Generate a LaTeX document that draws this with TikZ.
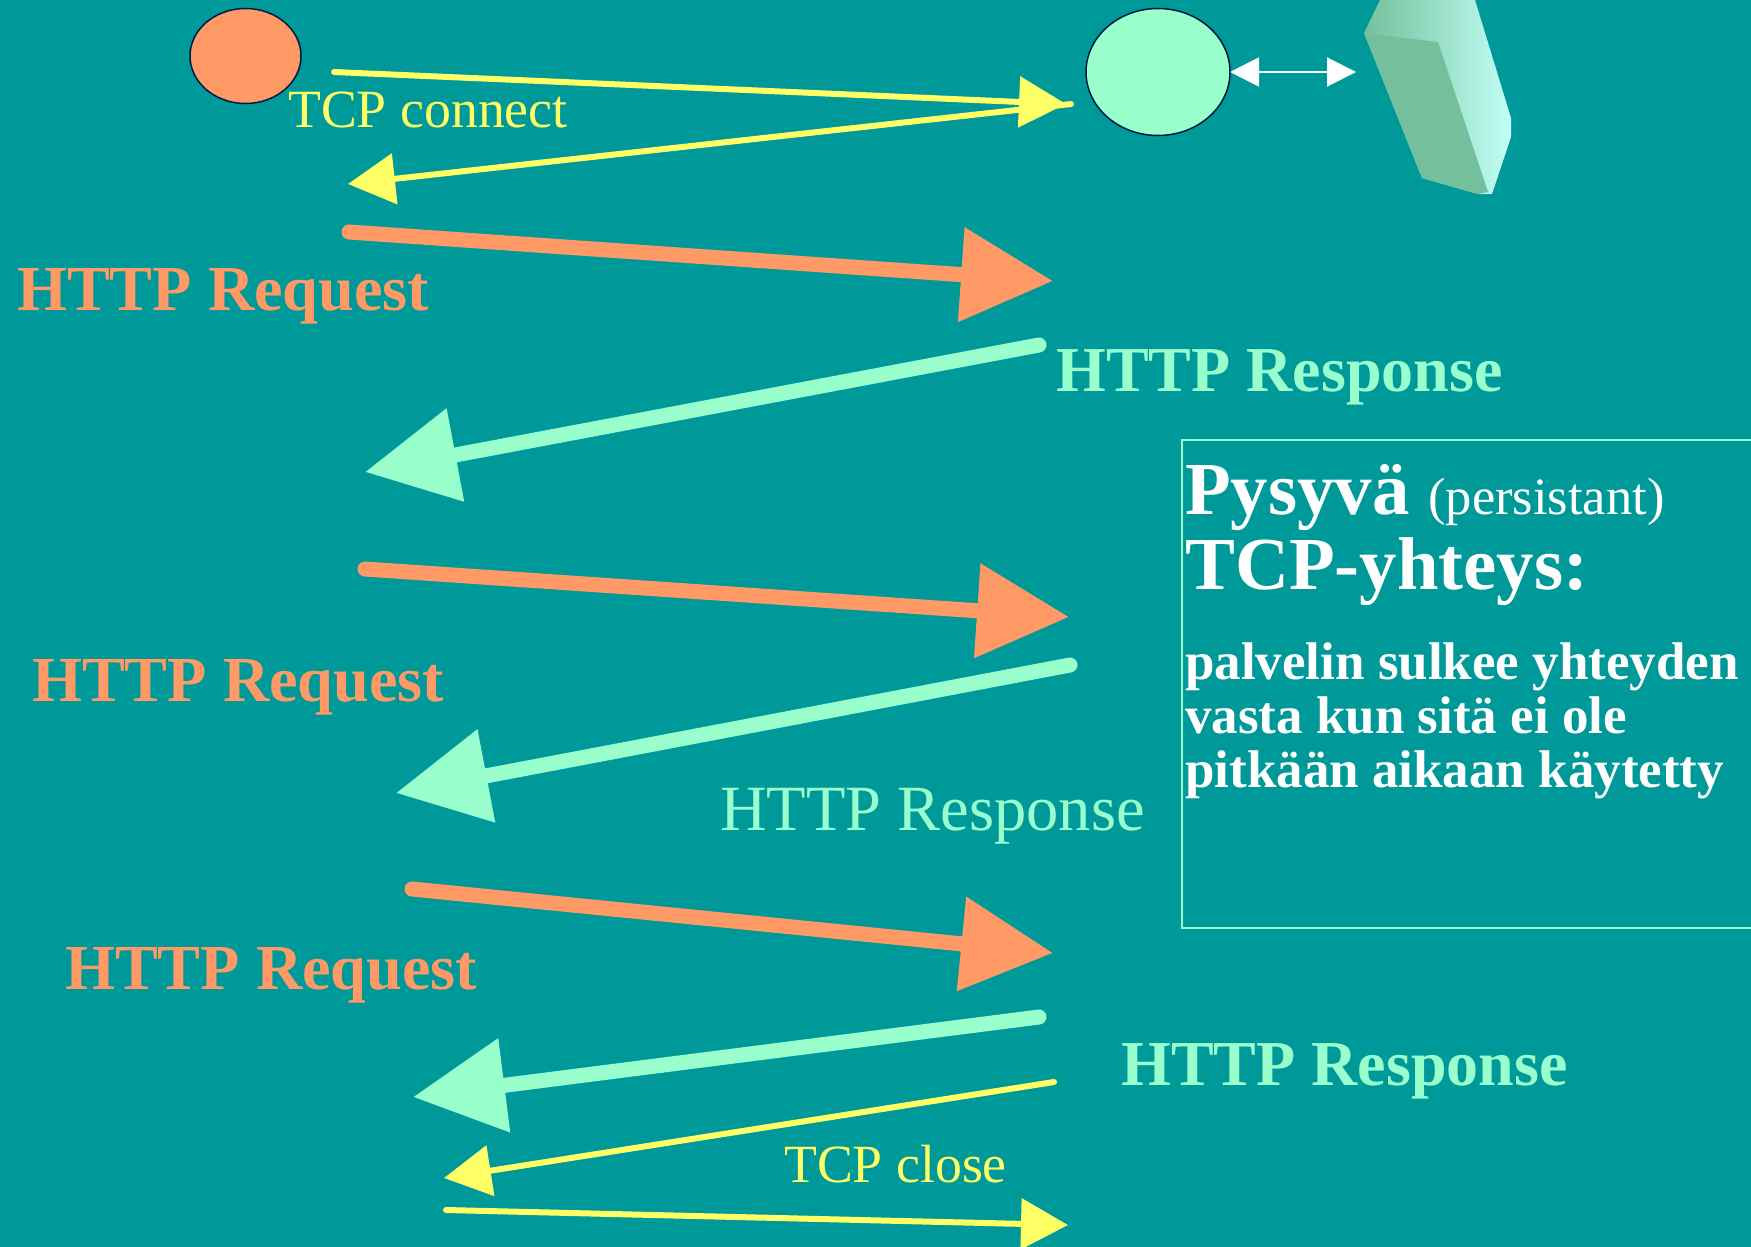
\documentclass[tikz,border=0pt]{standalone}
\usepackage{fontspec}
\setmainfont{Liberation Serif}
\usepackage{xcolor}
\usetikzlibrary{shapes.geometric,arrows.meta}
\definecolor{slidebg}{HTML}{009999}
\definecolor{clientcol}{HTML}{FF9966}
\definecolor{servercol}{HTML}{99FFCC}
\definecolor{tcpcol}{HTML}{FFFF66}
\definecolor{blockdark}{HTML}{74C09C}
\definecolor{blockmid}{HTML}{90E0B8}
\definecolor{blocklight}{HTML}{C0FFF5}
\definecolor{hostline}{HTML}{001A40}
\tikzset{
    tcparrow/.style={line width=6pt, tcpcol, line cap=round, -{Triangle[length=47pt,width=50pt]}},
    reqarrow/.style={line width=15pt, clientcol, line cap=round, -{Triangle[length=92pt,width=91pt]}},
    resparrow/.style={line width=15pt, servercol, line cap=round, -{Triangle[length=92pt,width=91pt]}},
    host/.style={ellipse, draw=hostline, line width=1.5pt, inner sep=0pt, outer sep=0pt},
    tcplabel/.style={anchor=base west, inner sep=0pt, tcpcol, font=\fontsize{53.8}{60}\selectfont},
    reqlabel/.style={anchor=base west, inner sep=0pt, clientcol, font=\fontsize{64.2}{70}\selectfont\bfseries},
    resplabel/.style={anchor=base west, inner sep=0pt, servercol, font=\fontsize{64}{70}\selectfont\bfseries},
    titletext/.style={anchor=base west, inner sep=0pt, white, font=\fontsize{74.8}{80}\selectfont\bfseries},
    bodytext/.style={anchor=base west, inner sep=0pt, white, font=\fontsize{53}{60}\selectfont\bfseries}
}
\begin{document}
\begin{tikzpicture}[x=1pt, y=-1pt]
    \useasboundingbox (0,0) rectangle (1751,1247);
    \fill [slidebg] (0,0) rectangle (1751,1247);
    
    % Client and server
    \node [host, fill=clientcol, minimum width=111pt, minimum height=95pt] (client) at (245.5,56) {};
    \node [host, fill=servercol, minimum width=144pt, minimum height=127pt] (server) at (1158,72) {};
    
    % Database block
    \shade [left color=blockdark, middle color=blockmid, right color=blocklight] (1380,0) -- (1364,33) -- (1422,178) -- (1478,194) -- (1492,194) -- (1511,137) -- (1511,118) -- (1475,0) -- cycle;
    \fill [blockdark] (1364,33) -- (1438,42) -- (1488,192) -- (1478,194) -- (1422,178) -- cycle;
    \coordinate (dbfront) at (1356,72);
    \draw [line width=2pt, white, {Triangle[length=29pt,width=29pt]}-{Triangle[length=29pt,width=29pt]}] (server.east) -- (dbfront);
    
    % TCP connect
    \coordinate (connA) at (334,72);
    \coordinate (connB) at (1066,104);
    \coordinate (connC) at (1071,104);
    \coordinate (connD) at (348,184);
    \draw [tcparrow] (connA) -- (connB);
    \draw [tcparrow] (connC) -- (connD);
    \node [tcplabel] (connlabel) at (288,127) {TCP connect};
    
    % First request
    \coordinate (reqA) at (349,232);
    \coordinate (reqB) at (1053,281);
    \coordinate (respA) at (1039,345);
    \coordinate (respB) at (365,472);
    \draw [reqarrow] (reqA) -- (reqB);
    \draw [resparrow] (respA) -- (respB);
    \node [reqlabel] (reqlabel) at (17,310) {HTTP Request};
    \node [resplabel] (resplabel) at (1056,391) {HTTP Response};
    
    % Second request
    \coordinate (reqC) at (365,569);
    \coordinate (reqD) at (1069,617);
    \coordinate (respC) at (1070,665);
    \coordinate (respD) at (396,793);
    \draw [reqarrow] (reqC) -- (reqD);
    \draw [resparrow] (respC) -- (respD);
    \node [reqlabel] (reqlabelb) at (32,701) {HTTP Request};
    \node [resplabel, font=\fontsize{64.5}{70}\selectfont] (resplabelb) at (720,830) {HTTP Response};
    
    % Third request
    \coordinate (reqE) at (412,889);
    \coordinate (reqF) at (1053,953);
    \coordinate (respE) at (1039,1017);
    \coordinate (respF) at (413,1097);
    \draw [reqarrow] (reqE) -- (reqF);
    \draw [resparrow] (respE) -- (respF);
    \node [reqlabel] (reqlabelc) at (65,989) {HTTP Request};
    \node [resplabel] (resplabelc) at (1121,1085) {HTTP Response};
    
    % TCP close
    \coordinate (closeA) at (1054,1082);
    \coordinate (closeB) at (444,1178);
    \coordinate (closeC) at (446,1210);
    \coordinate (closeD) at (1068,1225);
    \draw [tcparrow] (closeA) -- (closeB);
    \draw [tcparrow] (closeC) -- (closeD);
    \node [tcplabel] (closelabel) at (784,1182) {TCP close};
    
    % Explanation box
    \draw [line width=2pt, servercol] (1751,440) -- (1182,440) -- (1182,928) -- (1751,928);
    \node [titletext] (titleA) at (1185,514) {Pysyvä \fontsize{52.5}{60}\selectfont\mdseries (persistant)};
    \node [titletext] (titleB) at (1185,589) {TCP-yhteys:};
    \node [bodytext] (bodyA) at (1185,679) {palvelin sulkee yhteyden};
    \node [bodytext] (bodyB) at (1185,733) {vasta kun sitä ei ole};
    \node [bodytext] (bodyC) at (1185,787) {pitkään aikaan käytetty};
\end{tikzpicture}
\end{document}
